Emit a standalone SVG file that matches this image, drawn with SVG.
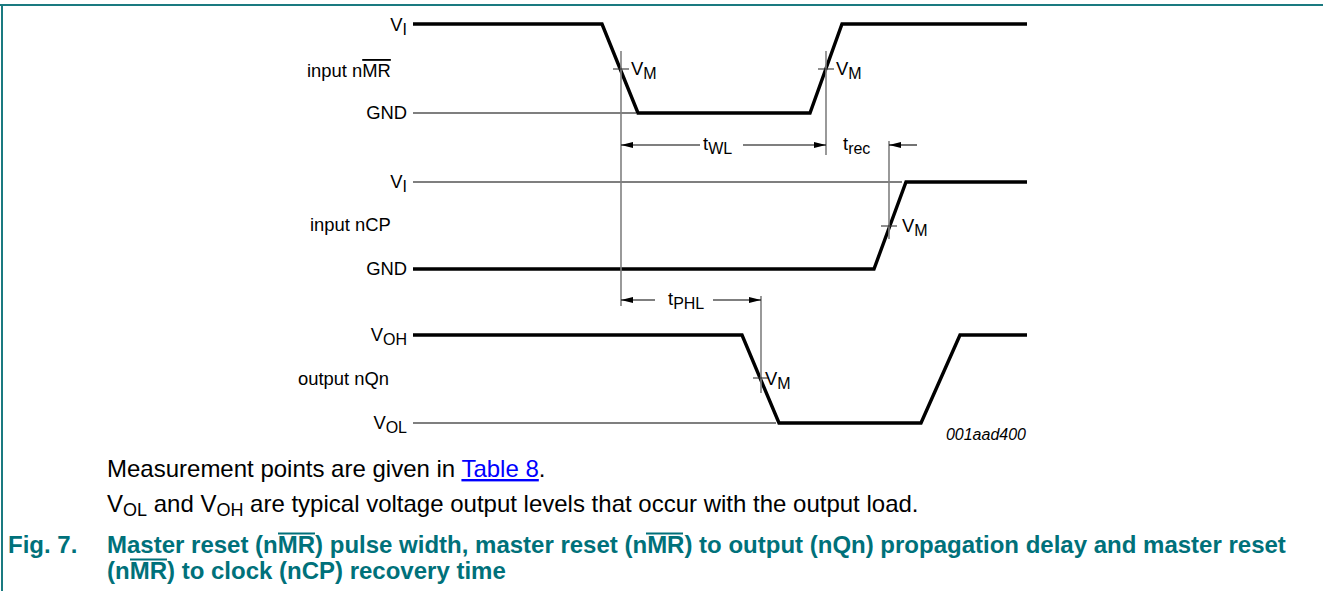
<svg xmlns="http://www.w3.org/2000/svg" width="1323" height="591" viewBox="0 0 1323 591">
<defs>
<style>
.lbl{font-family:"Liberation Sans",Arial,sans-serif;font-size:18.4px;fill:#000}
.sub{font-size:16px}
.it{font-style:italic;font-size:16px}
.thick{stroke:#000;stroke-width:3.4;fill:none;stroke-linejoin:miter}
.thin{stroke:#000;stroke-width:1.1;fill:none}
.vm{stroke:#808080;stroke-width:1.6;fill:none}
.tick{stroke:#333;stroke-width:1.1;fill:none}
.dim{stroke:#000;stroke-width:1.1;fill:none;marker-end:url(#ah)}
.note{font-family:"Liberation Sans",Arial,sans-serif;font-size:24px;fill:#000}
.nsub{font-size:18px}
.link{fill:#0000FF;text-decoration:underline}
.cap{font-family:"Liberation Sans",Arial,sans-serif;font-size:24px;font-weight:bold;fill:#00717A}
.capov{stroke:#00717A;stroke-width:1.8}
.ov{text-decoration:overline}
.frame{stroke:#1A7A80;stroke-width:2;fill:none}
</style>
<marker id="ah" viewBox="0 0 12 6" refX="12" refY="3" markerWidth="12" markerHeight="6" markerUnits="userSpaceOnUse" orient="auto">
<path d="M0,0 L12,3 L0,6 z" fill="#000"/>
</marker>
</defs>
<rect width="1323" height="591" fill="#fff"/>
<g id="frame">
<line class="frame" x1="0" y1="5" x2="1323" y2="5"/>
<line class="frame" x1="2" y1="4" x2="2" y2="591"/>
</g>

<g id="signal-nMR">
<polyline class="thick" points="413,24 602,24 638,113 810,113 842,24 1027,24"/>
<line class="thin" x1="413" y1="113" x2="636" y2="113"/>
<text class="lbl" text-anchor="end" x="407" y="31">V<tspan class="sub" dy="4">I</tspan></text>
<text class="lbl" x="307" y="77">input n<tspan class="ov">MR</tspan></text>
<text class="lbl" text-anchor="end" x="407" y="119">GND</text>
</g>

<g id="signal-nCP">
<line class="thin" x1="413" y1="182" x2="902" y2="182"/>
<polyline class="thick" points="413,269 874,269 906,182 1027,182"/>
<text class="lbl" text-anchor="end" x="407" y="188">V<tspan class="sub" dy="4">I</tspan></text>
<text class="lbl" x="310" y="231">input nCP</text>
<text class="lbl" text-anchor="end" x="407" y="275">GND</text>
</g>

<g id="signal-nQn">
<line class="thin" x1="413" y1="423" x2="776" y2="423"/>
<polyline class="thick" points="413,335 742,335 779,423 921,423 960,335 1027,335"/>
<text class="lbl" text-anchor="end" x="407" y="341">V<tspan class="sub" dy="4">OH</tspan></text>
<text class="lbl" x="298" y="385">output nQn</text>
<text class="lbl" text-anchor="end" x="407" y="429">V<tspan class="sub" dy="4">OL</tspan></text>
</g>

<g id="vm-markers">
<line class="vm" x1="621" y1="51" x2="621" y2="306"/>
<line class="tick" x1="613" y1="69" x2="629" y2="69"/>
<text class="lbl" x="631" y="75">V<tspan class="sub" dy="4">M</tspan></text>
<line class="vm" x1="826" y1="51" x2="826" y2="155"/>
<line class="tick" x1="818" y1="69" x2="834" y2="69"/>
<text class="lbl" x="836" y="75">V<tspan class="sub" dy="4">M</tspan></text>
<line class="vm" x1="889" y1="141" x2="889" y2="239"/>
<line class="tick" x1="881" y1="226" x2="897" y2="226"/>
<text class="lbl" x="902" y="232">V<tspan class="sub" dy="4">M</tspan></text>
<line class="vm" x1="761" y1="296" x2="761" y2="393"/>
<line class="tick" x1="753" y1="378" x2="769" y2="378"/>
<text class="lbl" x="765" y="385">V<tspan class="sub" dy="4">M</tspan></text>
</g>

<g id="connectors">
<line class="dim" x1="700" y1="145" x2="621" y2="145"/>
<line class="dim" x1="743" y1="145" x2="826" y2="145"/>
<line class="dim" x1="917" y1="145" x2="889" y2="145"/>
<line class="dim" x1="655" y1="300" x2="621" y2="300"/>
<line class="dim" x1="713" y1="300" x2="761" y2="300"/>
</g>

<g id="timing-labels">
<text class="lbl" x="703" y="150">t<tspan class="sub" dy="4">WL</tspan></text>
<text class="lbl" x="843" y="150">t<tspan class="sub" dy="4">rec</tspan></text>
<text class="lbl" x="668" y="305">t<tspan class="sub" dy="4">PHL</tspan></text>
<text class="lbl it" text-anchor="end" x="1026" y="440">001aad400</text>
</g>

<g id="notes">
<text class="note" x="107" y="477">Measurement points are given in <tspan class="link">Table 8</tspan>.</text>
<text class="note" x="107" y="512">V<tspan class="nsub" dy="4">OL</tspan><tspan dy="-4"> and V</tspan><tspan class="nsub" dy="4">OH</tspan><tspan dy="-4"> are typical voltage output levels that occur with the output load.</tspan></text>
<text class="cap" x="8" y="553">Fig. 7.</text>
<text class="cap" x="107" y="553">Master reset (nMR) pulse width, master reset (nMR) to output (nQn) propagation delay and master reset</text>
<text class="cap" x="107" y="579">(nMR) to clock (nCP) recovery time</text>
<line class="capov" x1="278" y1="533.5" x2="315" y2="533.5"/>
<line class="capov" x1="646" y1="533.5" x2="683" y2="533.5"/>
<line class="capov" x1="130" y1="559.5" x2="167" y2="559.5"/>
</g>
</svg>
